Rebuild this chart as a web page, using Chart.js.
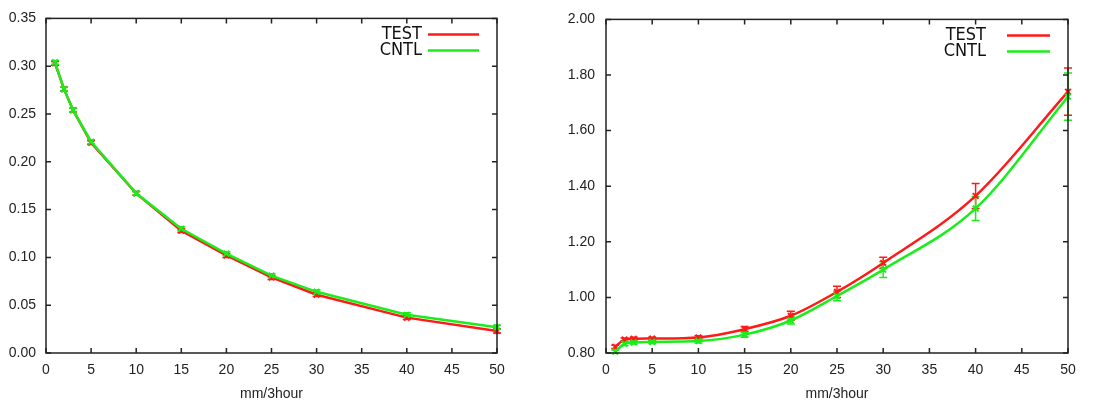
<!DOCTYPE html>
<html>
<head>
<meta charset="utf-8">
<script src="https://cdn.jsdelivr.net/npm/chart.js@4/dist/chart.umd.min.js"></script>
<style>
  html, body { margin: 0; padding: 0; background: #fff; }
  #wrap { position: relative; width: 1107px; height: 403px; }
  .box { position: absolute; top: 0; height: 403px; }
</style>
</head>
<body>
<div id="wrap">
  <div class="box" style="left:0;width:553px"><canvas id="leftChart"></canvas></div>
  <div class="box" style="left:553px;width:554px"><canvas id="rightChart"></canvas></div>
</div>
<script>
// rain rate bins (mm/3hour)
const xVals = [1, 2, 3, 5, 10, 15, 20, 25, 30, 40, 50];
const xTicks = [0, 5, 10, 15, 20, 25, 30, 35, 40, 45, 50];

// left panel
const leftTest = [0.303, 0.276, 0.254, 0.220, 0.167, 0.128, 0.102, 0.079, 0.061, 0.037, 0.023];
const leftCntl = [0.304, 0.276, 0.254, 0.221, 0.167, 0.130, 0.104, 0.081, 0.064, 0.040, 0.027];
const leftTestErr = [0.002, 0.002, 0.002, 0.002, 0.002, 0.002, 0.002, 0.002, 0.002, 0.002, 0.002];
const leftCntlErr = [0.002, 0.002, 0.002, 0.002, 0.002, 0.002, 0.002, 0.002, 0.002, 0.002, 0.002];
const leftYTicks = [0, 0.05, 0.10, 0.15, 0.20, 0.25, 0.30, 0.35];

// right panel
const rightTest = [0.822, 0.848, 0.851, 0.852, 0.856, 0.886, 0.934, 1.020, 1.124, 1.365, 1.740];
const rightCntl = [0.805, 0.833, 0.838, 0.840, 0.843, 0.866, 0.917, 1.005, 1.100, 1.320, 1.722];
const rightTestErr = [0.006, 0.006, 0.006, 0.005, 0.006, 0.009, 0.016, 0.020, 0.020, 0.045, 0.085];
const rightCntlErr = [0.006, 0.006, 0.006, 0.006, 0.007, 0.009, 0.013, 0.017, 0.028, 0.043, 0.085];
const rightYTicks = [0.8, 1.0, 1.2, 1.4, 1.6, 1.8, 2.0];

const RED = '#ff1a1a';
const GREEN = '#1aee1a';
const INK = '#222';
const TICK_FONT = { family: '"Liberation Sans", Arial, sans-serif', size: 14 };

function pts(ys) {
  return xVals.map((x, i) => ({ x, y: ys[i] }));
}

// gnuplot-like frame, inward ticks, error bars and legend
const gnuFrame = {
  id: 'gnuFrame',
  beforeDatasetsDraw(chart) {
    const { ctx, scales } = chart;
    chart.data.datasets.forEach((ds) => {
      ctx.save();
      ctx.strokeStyle = ds.borderColor;
      ctx.lineWidth = 1.5;
      ds.err.forEach((e, j) => {
        const p = ds.data[j];
        const x = scales.x.getPixelForValue(p.x);
        const y1 = scales.y.getPixelForValue(p.y + e);
        const y2 = scales.y.getPixelForValue(p.y - e);
        ctx.beginPath();
        ctx.moveTo(x, y1); ctx.lineTo(x, y2);
        ctx.moveTo(x - 4, y1); ctx.lineTo(x + 4, y1);
        ctx.moveTo(x - 4, y2); ctx.lineTo(x + 4, y2);
        ctx.stroke();
      });
      ctx.restore();
    });
  },
  afterDraw(chart, args, opts) {
    const { ctx, chartArea: a, scales } = chart;
    ctx.save();
    ctx.strokeStyle = INK;
    ctx.lineWidth = 1.5;
    ctx.strokeRect(a.left, a.top, a.right - a.left, a.bottom - a.top);
    const len = 5;
    ctx.beginPath();
    scales.x.ticks.forEach((t) => {
      const x = scales.x.getPixelForValue(t.value);
      ctx.moveTo(x, a.bottom); ctx.lineTo(x, a.bottom - len);
      ctx.moveTo(x, a.top); ctx.lineTo(x, a.top + len);
    });
    scales.y.ticks.forEach((t) => {
      const y = scales.y.getPixelForValue(t.value);
      ctx.moveTo(a.left, y); ctx.lineTo(a.left + len, y);
      ctx.moveTo(a.right, y); ctx.lineTo(a.right - len, y);
    });
    ctx.stroke();

    // legend
    ctx.font = '18px "Liberation Sans Narrow", "DejaVu Sans Condensed", sans-serif';
    ctx.textAlign = 'right';
    ctx.textBaseline = 'middle';
    ctx.lineWidth = 2.5;
    chart.data.datasets.forEach((ds, i) => {
      const y = a.top + 16 + i * 16;
      ctx.fillStyle = '#111';
      ctx.fillText(ds.label, a.right - opts.textGap, y);
      ctx.strokeStyle = ds.borderColor;
      ctx.beginPath();
      ctx.moveTo(a.right - opts.lineStart, y);
      ctx.lineTo(a.right - 18, y);
      ctx.stroke();
    });
    ctx.restore();
  },
};

function makeChart(id, testVals, cntlVals, testErr, cntlErr, yTicks, yMin, yMax, opts) {
  const ds = (label, ys, err, color, order) => ({
    label,
    data: pts(ys),
    err,
    order,
    borderColor: color,
    backgroundColor: color,
    borderWidth: 2.5,
    pointStyle: 'crossRot',
    pointRadius: 4,
    pointBorderWidth: 2,
    cubicInterpolationMode: opts.smooth ? 'monotone' : 'default',
    clip: false,
  });

  return new Chart(document.getElementById(id), {
    type: 'line',
    data: {
      datasets: [
        ds('TEST', testVals, testErr, RED, 2),
        ds('CNTL', cntlVals, cntlErr, GREEN, 1),
      ],
    },
    options: {
      responsive: true,
      maintainAspectRatio: false,
      animation: false,
      layout: { padding: { top: 17, right: opts.padRight, left: 0, bottom: 0 } },
      plugins: {
        legend: { display: false },
        tooltip: { enabled: false },
        gnuFrame: { textGap: opts.textGap, lineStart: opts.lineStart },
      },
      scales: {
        x: {
          type: 'linear',
          min: 0,
          max: 50,
          afterBuildTicks: (s) => { s.ticks = xTicks.map((v) => ({ value: v })); },
          afterFit: (s) => { s.height = 50; },
          grid: { display: false, drawTicks: false },
          border: { display: false },
          ticks: { color: INK, font: TICK_FONT, padding: 9, maxRotation: 0 },
          title: {
            display: true,
            text: 'mm/3hour',
            color: INK,
            font: TICK_FONT,
            padding: { top: 0, bottom: 0 },
          },
        },
        y: {
          min: yMin,
          max: yMax,
          afterBuildTicks: (s) => { s.ticks = yTicks.map((v) => ({ value: v })); },
          afterFit: (s) => { s.width = opts.yWidth; },
          grid: { display: false, drawTicks: false },
          border: { display: false },
          ticks: {
            color: INK,
            font: TICK_FONT,
            padding: opts.yPad,
            callback: (v) => Number(v).toFixed(2),
          },
        },
      },
    },
    plugins: [gnuFrame],
  });
}

makeChart('leftChart', leftTest, leftCntl, leftTestErr, leftCntlErr, leftYTicks, 0, 0.35,
  { padRight: 56, yWidth: 46, yPad: 10, textGap: 75, lineStart: 69, smooth: false });
makeChart('rightChart', rightTest, rightCntl, rightTestErr, rightCntlErr, rightYTicks, 0.8, 2.0,
  { padRight: 39, yWidth: 53, yPad: 11, textGap: 82, lineStart: 61, smooth: true });
</script>
</body>
</html>
